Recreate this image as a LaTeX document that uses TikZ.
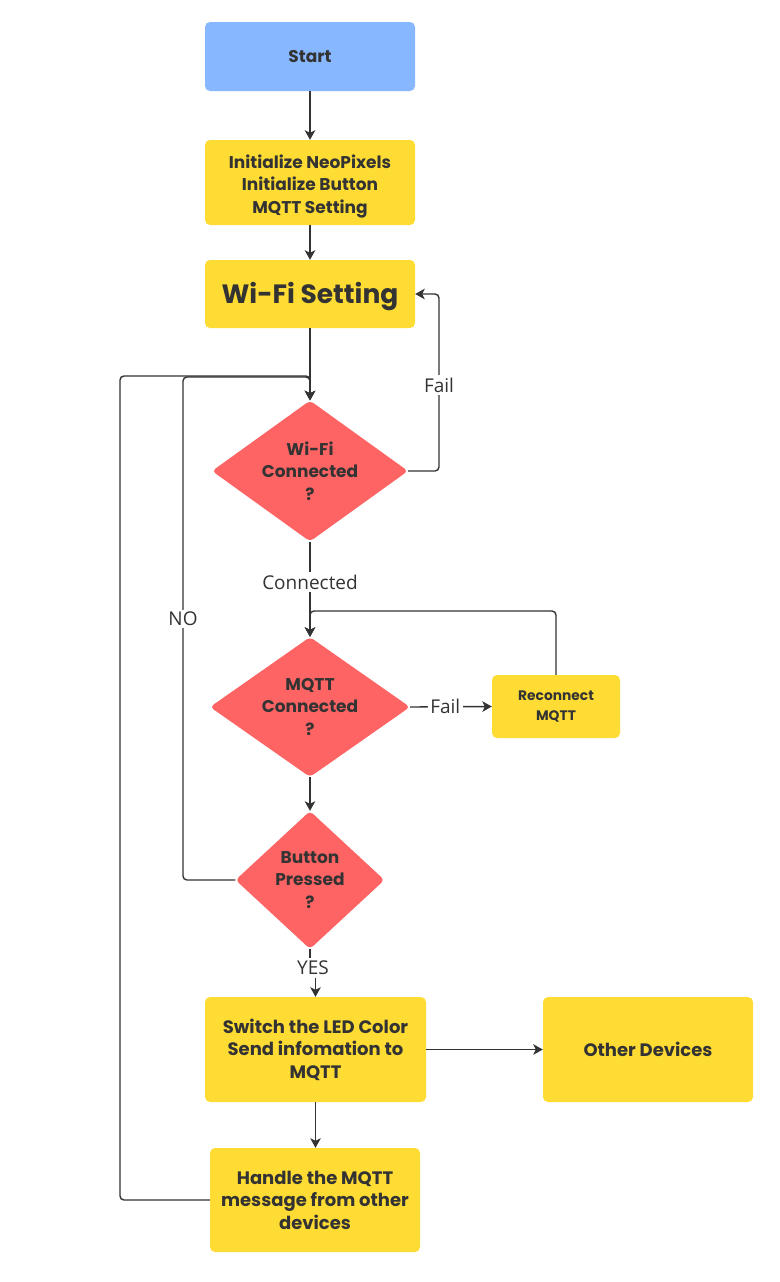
\documentclass[tikz,border=0pt]{standalone}
\usepackage{fontspec}
\setmainfont{Poppins}
\newfontfamily\lblfont{Open Sans}
\usetikzlibrary{shapes.geometric,arrows.meta}
\definecolor{cblue}{HTML}{87B7FF}
\definecolor{cyel}{HTML}{FFDC33}
\definecolor{cred}{HTML}{FF6464}
\definecolor{cink}{HTML}{333333}
\begin{document}
\begin{tikzpicture}[x=1pt,y=-1pt,
 box/.style={rectangle, rounded corners=5pt, inner sep=0pt, align=center, text=cink, font=\bfseries\fontsize{17}{22.5}\selectfont},
 dia/.style={diamond, fill=cred, rounded corners=4pt, inner sep=0pt},
 dtext/.style={align=center, text=cink, font=\bfseries\fontsize{17}{22.5}\selectfont},
 conn/.style={draw=cink, line width=1.4pt, rounded corners=4pt},
 arr/.style={conn, -{Stealth[length=9.5pt,width=10.5pt,inset=2.5pt]}},
 lbl/.style={font=\lblfont\fontsize{19}{22}\selectfont, text=cink, fill=white, inner sep=2.5pt}]
\useasboundingbox[fill=white] (0,0) rectangle (779,1282);
\node[box, fill=cblue, minimum width=210pt, minimum height=69pt] (start) at (310,56.5) {Start};
\node[box, fill=cyel, minimum width=210pt, minimum height=85pt] (init) at (310,182.5) {};
\node[dtext] (initt) at (310,186.5) {Initialize NeoPixels\\Initialize Button\\MQTT Setting};
\node[box, fill=cyel, minimum width=210pt, minimum height=68pt] (wset) at (310,294) {};
\node[dtext, font=\bfseries\fontsize{26.5}{30}\selectfont] (wsett) at (310,296.5) {Wi-Fi Setting};
\node[dia, minimum width=196pt, minimum height=141pt] (wc) at (310,471) {};
\node[dtext] (wct) at (310,471) {Wi-Fi\\Connected\\?};
\node[dia, minimum width=200pt, minimum height=140pt] (mc) at (310,707) {};
\node[dtext] (mct) at (310,707) {MQTT\\Connected\\?};
\node[box, fill=cyel, minimum width=128pt, minimum height=63pt, font=\bfseries\fontsize{13.8}{20}\selectfont] (rec) at (556,706.5) {Reconnect\\MQTT};
\node[dia, minimum width=149pt, minimum height=138pt] (bp) at (310,880) {};
\node[dtext] (bpt) at (310,880) {Button\\Pressed\\?};
\node[box, fill=cyel, minimum width=221pt, minimum height=105pt, font=\bfseries\fontsize{18}{22.5}\selectfont] (sw) at (315.5,1049.5) {Switch the LED Color\\Send infomation to\\MQTT};
\node[box, fill=cyel, minimum width=210pt, minimum height=105pt, font=\bfseries\fontsize{18}{22.5}\selectfont] (od) at (648,1049.5) {Other Devices};
\node[box, fill=cyel, minimum width=210pt, minimum height=104pt, font=\bfseries\fontsize{18}{22.5}\selectfont] (hd) at (315,1200) {Handle the MQTT\\message from other\\devices};
% connectors
\draw[arr] (start) -- (init);
\draw[arr] (init) -- (wset);
\draw[arr] (wset) -- (wc);
\draw[arr] (wc.east) -- (439,471) -- (439,294) -- (wset.east);
\node[lbl] (failA) at (439,385) {Fail};
\draw[arr] (wc.south) -- (mc.north);
\node[lbl] (conA) at (310,582) {Connected};
\draw[arr] (mc.east) -- node[lbl, pos=0.43] (failB) {Fail} (rec.west);
\draw[arr] (rec.north) -- (556,611) -- (310,611) -- (mc.north);
\draw[arr] (mc.south) -- (bp.north);
\draw[arr] (hd.west) -- (120,1200) -- (120,376) -- (310,376) -- (wc.north);
\draw[arr] (bp.west) -- (183,880) -- (183,377) -- (310,377) -- (wc.north);
\node[lbl] (no) at (183,619) {NO};
\node[lbl] (yes) at (313,968) {YES};
\draw[conn] (bp.south) -- (bp.south |- yes.north);
\draw[arr] (yes.south -| sw.north) -- (sw.north);
\draw[arr] (sw.east) -- (od.west);
\draw[arr] (sw.south) -- (sw.south |- hd.north);
\end{tikzpicture}
\end{document}
